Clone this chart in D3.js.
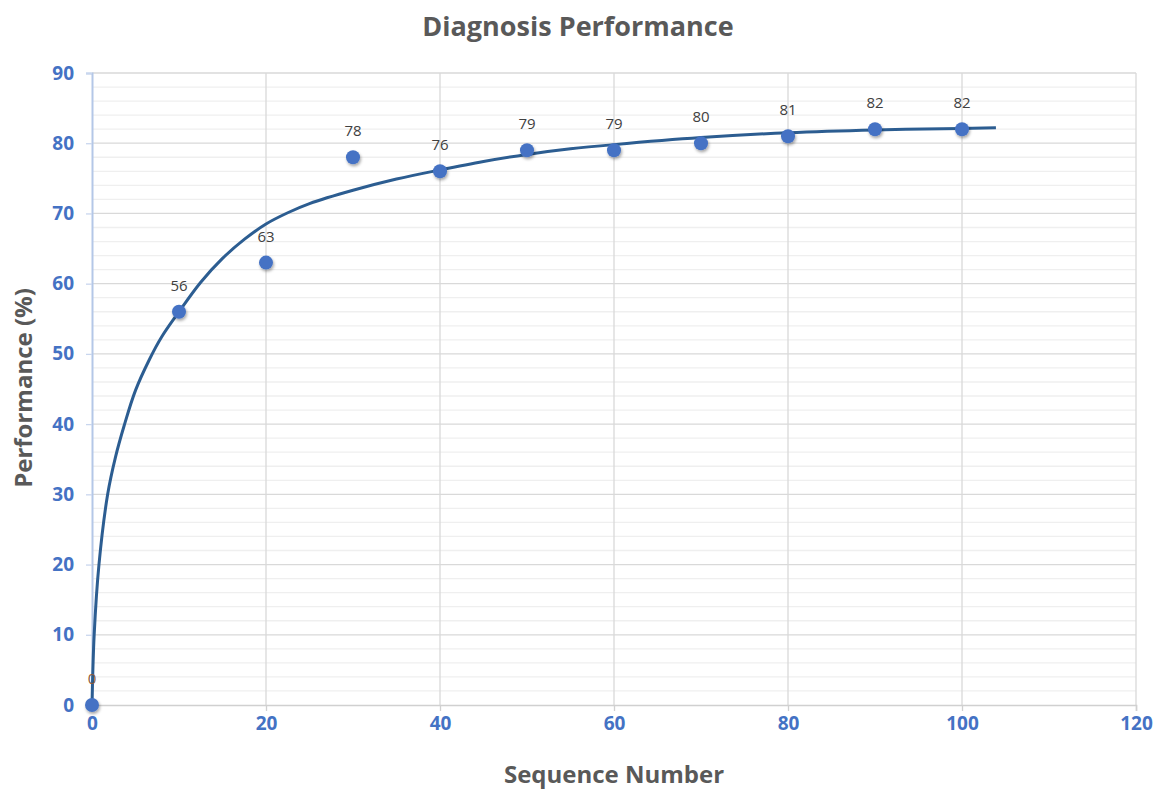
<!DOCTYPE html>
<html><head><meta charset="utf-8">
<script src="https://cdn.jsdelivr.net/npm/d3@7"></script>
<style>body{margin:0;background:#fff;} svg{display:block;}</style>
</head><body>
<script>
const seqX = [0,10,20,30,40,50,60,70,80,90,100];
const perfY = [0,56,63,78,76,79,79,80,81,82,82];
const trendX = [0,0.25,0.8,1.8,2.7,3.7,5,6.6,8,10,12.5,15,17.5,20,22.5,25,30,35,40,45,50,55,60,70,80,90,100,103.9];
const trendY = [0,10,20,30,35.3,39.8,44.8,49.2,52.4,56,60.2,63.6,66.3,68.5,70.1,71.4,73.3,74.9,76.2,77.4,78.4,79.2,79.8,80.8,81.5,81.9,82.1,82.2];
const xTicks = [0,20,40,60,80,100,120];
const yTicks = [0,10,20,30,40,50,60,70,80,90];

const W=1157,H=789;
const svg=d3.select("body").append("svg").attr("width",W).attr("height",H);
const x=d3.scaleLinear().domain([0,120]).range([92,1136]);
const y=d3.scaleLinear().domain([0,90]).range([705,73]);
const font="'Open Sans', 'Noto Sans', sans-serif";

const defs=svg.append("defs");
const f=defs.append("filter").attr("id","sh").attr("x","-50%").attr("y","-50%").attr("width","200%").attr("height","200%");
f.append("feDropShadow").attr("dx",1).attr("dy",2).attr("stdDeviation",1.6).attr("flood-color","#000").attr("flood-opacity",0.35);

// minor gridlines
const minor=d3.range(0,91,2).filter(v=>v%10!==0);
svg.append("g").selectAll("line").data(minor).join("line")
 .attr("x1",x(0)).attr("x2",x(120)).attr("y1",d=>y(d)).attr("y2",d=>y(d))
 .attr("stroke","#efefef").attr("stroke-width",1.3);
// major horizontal
svg.append("g").selectAll("line").data(yTicks.filter(d=>d>0)).join("line")
 .attr("x1",x(0)).attr("x2",x(120)).attr("y1",d=>y(d)).attr("y2",d=>y(d))
 .attr("stroke","#d9d9d9").attr("stroke-width",1.3);
// major vertical
svg.append("g").selectAll("line").data(xTicks.filter(d=>d>0)).join("line")
 .attr("x1",d=>x(d)).attr("x2",d=>x(d)).attr("y1",y(0)).attr("y2",y(90))
 .attr("stroke","#d9d9d9").attr("stroke-width",1.3);

// x axis
const xa=svg.append("g").attr("transform",`translate(0,${y(0)})`)
 .call(d3.axisBottom(x).tickValues(xTicks).tickSize(6).tickPadding(6).tickFormat(d3.format("d")));
xa.select(".domain").attr("stroke","#d0d0d0").attr("stroke-width",1.5);
xa.selectAll(".tick line").attr("stroke","#d0d0d0").attr("stroke-width",1.3);
xa.selectAll("text").attr("fill","#4472c4").attr("font-family",font).attr("font-weight","bold").attr("font-size","19px");

// y axis
const ya=svg.append("g").attr("transform",`translate(${x(0)},0)`)
 .call(d3.axisLeft(y).tickValues(yTicks).tickSize(6).tickPadding(12).tickFormat(d3.format("d")));
ya.select(".domain").attr("stroke","#b4c7e7").attr("stroke-width",2);
ya.selectAll(".tick line").attr("stroke","#c9d6ee").attr("stroke-width",1.3);
ya.selectAll("text").attr("fill","#4472c4").attr("font-family",font).attr("font-weight","bold").attr("font-size","19px");

// trend line
const pts=trendX.map((v,i)=>[v,trendY[i]]);
svg.append("path").datum(pts)
 .attr("d",d3.line().x(d=>x(d[0])).y(d=>y(d[1])).curve(d3.curveCatmullRom.alpha(0.5)))
 .attr("fill","none").attr("stroke","#2c5d91").attr("stroke-width",3);

// points
const data=seqX.map((v,i)=>({x:v,y:perfY[i]}));
svg.append("g").selectAll("circle").data(data).join("circle")
 .attr("cx",d=>x(d.x)).attr("cy",d=>y(d.y)).attr("r",7)
 .attr("fill","#4472c4").attr("filter","url(#sh)");

// labels
svg.append("g").selectAll("text").data(data).join("text")
 .attr("x",d=>x(d.x)).attr("y",d=>y(d.y)-21)
 .attr("text-anchor","middle").attr("font-family",font).attr("font-size","15px")
 .attr("fill",d=>d.y===0?"#8a5a3a":"#404040").text(d=>d.y);

// titles
svg.append("text").attr("x",578).attr("y",36).attr("text-anchor","middle")
 .attr("font-family",font).attr("font-weight","bold").attr("font-size","27px").attr("fill","#595959")
 .text("Diagnosis Performance");
svg.append("text").attr("x",614).attr("y",783).attr("text-anchor","middle")
 .attr("font-family",font).attr("font-weight","bold").attr("font-size","24px").attr("fill","#595959")
 .text("Sequence Number");
svg.append("text").attr("transform","translate(32,388) rotate(-90)").attr("text-anchor","middle")
 .attr("font-family",font).attr("font-weight","bold").attr("font-size","24px").attr("fill","#595959")
 .text("Performance (%)");
</script>
</body></html>
